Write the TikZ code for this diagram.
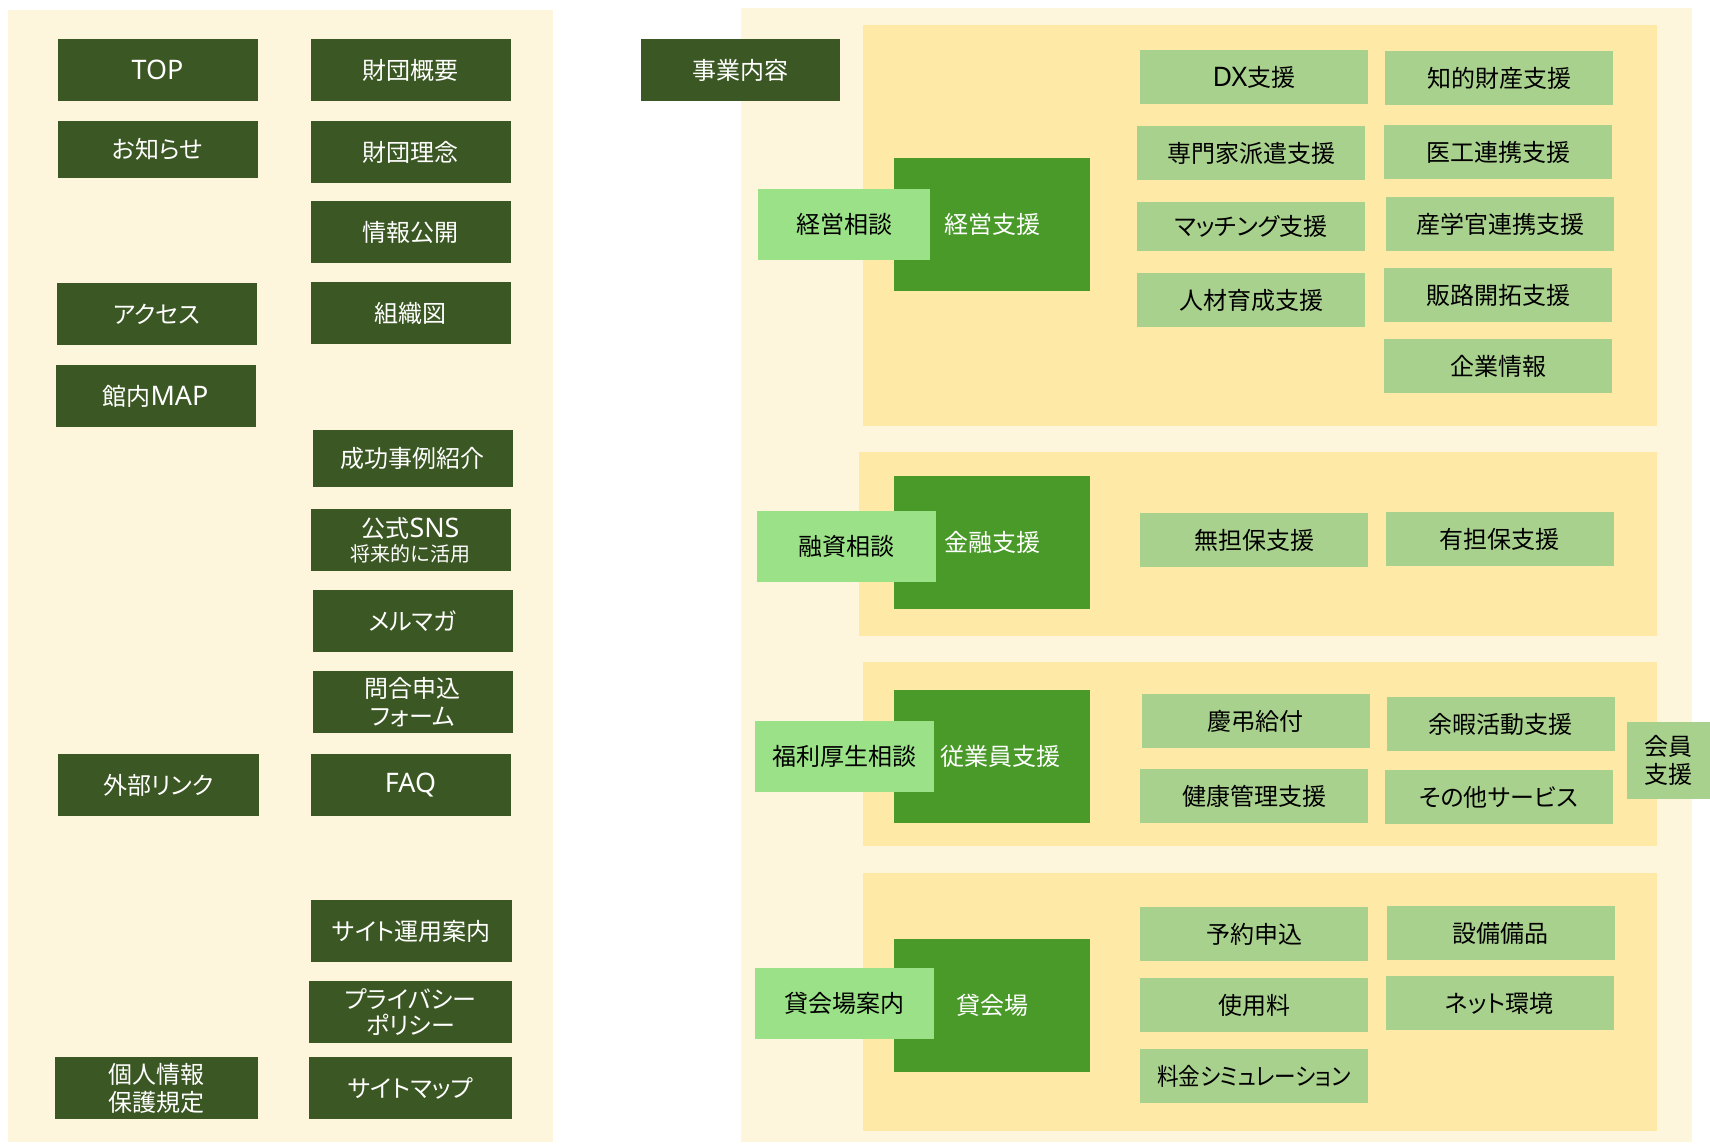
\documentclass[tikz,border=0pt]{standalone}
\usepackage{fontspec}
\setmainfont{Noto Sans CJK JP}[RawFeature=+palt]
\newfontfamily\latinfont{Noto Sans}[Scale=1.12]
\usepackage{tikz}
\definecolor{fukamidori}{HTML}{3B5723}
\definecolor{midori}{HTML}{4A9A2A}
\definecolor{wakaba}{HTML}{9BE187}
\definecolor{usumidori}{HTML}{A9D18E}
\definecolor{kinari}{HTML}{FEF5DD}
\definecolor{tamagoiro}{HTML}{FFE9A6}

\begin{document}
\begin{tikzpicture}[x=1pt,y=-1pt,
	every node/.style={inner sep=0pt,align=center,font=\fontsize{24}{28}\selectfont},
	nav/.style={fill=fukamidori,text=white,minimum width=200pt,minimum height=62pt},
	shien/.style={fill=midori,text=white,minimum width=196pt,minimum height=133pt},
	soudan/.style={fill=wakaba,text=black,minimum width=177pt,minimum height=71pt},
	koumoku/.style={fill=usumidori,text=black,minimum width=228pt,minimum height=54pt}]
			\useasboundingbox (0,0) rectangle (1710,1143);
				\fill[white] (0,0) rectangle (1710,1143);
				\fill[kinari] (8,10) rectangle (553,1142);
				\fill[kinari] (741,8) rectangle (1692,1142);
				\fill[tamagoiro] (863,25) rectangle (1657,426);
				\fill[tamagoiro] (859,452) rectangle (1657,636);
				\fill[tamagoiro] (863,662) rectangle (1657,846);
				\fill[tamagoiro] (863,873) rectangle (1657,1131);

				\node[nav] (top) at (157.5,70) {\latinfont TOP};
				\node[nav,minimum height=57pt] (oshirase) at (157.5,149.5) {お知らせ};
				\node[nav] (access) at (156.5,314) {アクセス};
				\node[nav] (kannaimap) at (155.5,396) {館内{\latinfont MAP}};
				\node[nav,minimum width=201pt] (gaibulink) at (158.5,785) {外部リンク};
				\node[nav,minimum width=203pt] (kojinjoho) at (156.5,1088) {個人情報\\保護規定};

				\node[nav] (zaidangaiyo) at (410.5,70) {財団概要};
				\node[nav] (zaidanrinen) at (410.5,152) {財団理念};
				\node[nav] (johokokai) at (410.5,232) {情報公開};
				\node[nav] (soshikizu) at (410.5,313) {組織図};
				\node[nav,minimum height=57pt] (seikojirei) at (412.5,458.5) {成功事例紹介};
				\node[nav] (koshikisns) at (410.5,540) {公式{\latinfont SNS}\\[-4pt]{\fontsize{20}{24}\selectfont 将来的に活用}};
				\node[nav] (merumaga) at (412.5,621) {メルマガ};
				\node[nav] (toiawase) at (412.5,702) {問合申込\\フォーム};
				\node[nav] (faq) at (410.5,785) {\latinfont FAQ};
				\node[nav,minimum width=201pt] (saitounyo) at (411.5,931) {サイト運用案内};
				\node[nav,minimum width=203pt] (privacy) at (410.5,1012) {プライバシー\\[-2pt]ポリシー};
				\node[nav,minimum width=203pt] (sitemap) at (410.5,1088) {サイトマップ};

				\node[nav,minimum width=199pt] (jigyonaiyo) at (740.5,70) {事業内容};

				\node[shien] (keieishien) at (992,224.5) {経営支援};
				\node[shien] (kinyushien) at (992,542.5) {金融支援};
				\node[shien] (jugyoinshien) at (992,756.5) {\hspace*{16pt}従業員支援};
				\node[shien] (kashikaijo) at (992,1005.5) {貸会場};

				\node[soudan,minimum width=172pt] (keieisoudan) at (844,224.5) {経営相談};
				\node[soudan,minimum width=179pt] (yushisoudan) at (846.5,546.5) {融資相談};
				\node[soudan,minimum width=179pt] (fukurisoudan) at (844.5,756.5) {福利厚生相談};
				\node[soudan,minimum width=179pt] (kashikaijoannai) at (844.5,1003.5) {貸会場案内};

				\node[koumoku] (dx) at (1254,77) {{\latinfont DX}支援};
				\node[koumoku] (senmonka) at (1251,153) {専門家派遣支援};
				\node[koumoku,minimum height=49pt] (matching) at (1251,226.5) {マッチング支援};
				\node[koumoku] (jinzai) at (1251,300) {人材育成支援};
				\node[koumoku] (chiteki) at (1499,78) {知的財産支援};
				\node[koumoku] (ikorenkei) at (1498,152) {医工連携支援};
				\node[koumoku] (sangakukan) at (1500,224) {産学官連携支援};
				\node[koumoku] (hanro) at (1498,295) {販路開拓支援};
				\node[koumoku] (kigyojoho) at (1498,366) {企業情報};

				\node[koumoku] (mutanpo) at (1254,540) {無担保支援};
				\node[koumoku] (yutanpo) at (1499.5,539) {有担保支援};

				\node[koumoku] (keicho) at (1255.5,721) {慶弔給付};
				\node[koumoku] (yoka) at (1500.5,724) {余暇活動支援};
				\node[koumoku] (kenko) at (1254,796) {健康管理支援};
				\node[koumoku] (sonota) at (1498.5,797) {その他サービス};
				\node[koumoku,minimum width=83pt,minimum height=77pt] (kaiin) at (1668.5,760.5) {会員\\支援};

				\node[koumoku] (yoyaku) at (1254,934) {予約申込};
				\node[koumoku] (shiyoryo) at (1254,1005) {使用料};
				\node[koumoku] (ryokinsim) at (1254,1076) {\scalebox{0.9}[1]{料金シミュレーション}};
				\node[koumoku] (setsubi) at (1500.5,933) {設備備品};
				\node[koumoku] (net) at (1499.5,1003) {ネット環境};
		\end{tikzpicture}
\end{document}
